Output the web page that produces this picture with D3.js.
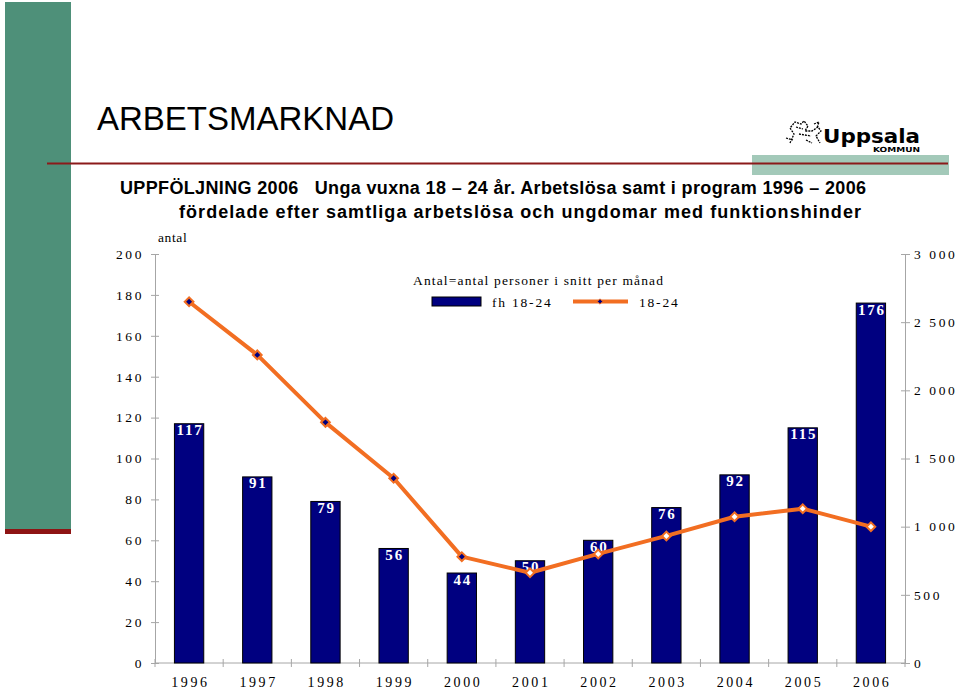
<!DOCTYPE html>
<html>
<head>
<meta charset="utf-8">
<script src="https://cdn.jsdelivr.net/npm/d3@7"></script>
<style>
  body{margin:0;background:#fff;}
  svg{display:block;}
  .serif{font-family:"Liberation Serif","Times New Roman",serif;}
  .axis path,.axis line{stroke:#a6a6a6;}
</style>
</head>
<body>
<div id="chart"></div>
<script>
// data
var years  = ['1996','1997','1998','1999','2000','2001','2002','2003','2004','2005','2006'];
var fh     = [117,91,79,56,44,50,60,76,92,115,176];           // fh 18-24 (left axis)
var total  = [2650,2260,1765,1355,780,662,800,932,1073,1132,1000]; // 18-24 (right axis)
var leftTicks  = [0,20,40,60,80,100,120,140,160,180,200];
var rightTicks = [0,500,1000,1500,2000,2500,3000];
var seriesNames = ['fh 18-24','18-24'];

var W = 960, H = 690;
var navy = '#000080', orange = '#f26e22', grey = '#a6a6a6';
var ox0 = 155, ox1 = 905, oy0 = 663, oy1 = 254;
var serif = '"Liberation Serif","Times New Roman",serif';

var svg = d3.select('#chart').append('svg').attr('width',W).attr('height',H);

// slide decoration
svg.append('rect').attr('x',5).attr('y',2).attr('width',66).attr('height',528).attr('fill','#4e9079');
svg.append('rect').attr('x',5).attr('y',529).attr('width',66).attr('height',5).attr('fill','#8e1414');
svg.append('rect').attr('x',752).attr('y',155).attr('width',197).attr('height',20).attr('fill','#a3c9b9');
svg.append('line').attr('x1',47).attr('x2',948).attr('y1',163.5).attr('y2',163.5)
  .attr('stroke','#8b1a1a').attr('stroke-width',2);

svg.append('text').attr('x',97).attr('y',129.5)
  .style('font-family','"Liberation Sans",Arial,sans-serif').style('font-size','33px')
  .text('ARBETSMARKNAD');

// logo
var logo = svg.append('g').attr('fill','none').attr('stroke','#000').attr('stroke-width',1.3)
  .attr('stroke-dasharray','2,1');
logo.append('path').attr('d','M790,143 L794,134 L790,128 L795,122 L801,124 L804,121 L808,126 L805,131 L812,131 L818,127 L821,131 L816,136 L820,143');
logo.append('path').attr('d','M796,127 L803,129 M799,134 L811,136 M786,138 L793,140 M806,140 L812,143 M814,124 L819,122 L817,128');
svg.append('text').attr('x',823).attr('y',143).attr('textLength',97).attr('lengthAdjust','spacingAndGlyphs')
  .style('font-family','"DejaVu Sans",sans-serif').style('font-weight','bold').style('font-size','20px')
  .text('Uppsala');
svg.append('text').attr('x',873).attr('y',152).attr('textLength',47).attr('lengthAdjust','spacingAndGlyphs')
  .style('font-family','"DejaVu Sans",sans-serif').style('font-weight','bold').style('font-size','7px')
  .text('KOMMUN');

// subtitle
var sub = svg.append('g').style('font-family','"Liberation Sans",Arial,sans-serif')
  .style('font-weight','bold').style('font-size','18px');
sub.append('text').attr('x',120).attr('y',194).attr('textLength',746).attr('lengthAdjust','spacing')
  .style('white-space','pre')
  .text('UPPFÖLJNING 2006   Unga vuxna 18 – 24 år. Arbetslösa samt i program 1996 – 2006');
sub.append('text').attr('x',179).attr('y',218).attr('textLength',682).attr('lengthAdjust','spacing')
  .text('fördelade efter samtliga arbetslösa och ungdomar med funktionshinder');

// scales
var x = d3.scaleBand().domain(years).range([ox0,ox1]).paddingInner(0.57).paddingOuter(0.285);
var yL = d3.scaleLinear().domain([0,200]).range([oy0,oy1]);
var yR = d3.scaleLinear().domain([0,3000]).range([oy0,oy1]);
var fmt = d3.formatLocale({decimal:',',thousands:'\u00a0',grouping:[3],currency:['','']}).format(',d');

// axes
var gl = svg.append('g').attr('class','axis').attr('transform','translate('+ox0+',0)')
  .call(d3.axisLeft(yL).tickValues(leftTicks).tickSize(4).tickSizeOuter(0).tickPadding(7));
gl.selectAll('.tick line').attr('x1',4);
var gr = svg.append('g').attr('class','axis').attr('transform','translate('+ox1+',0)')
  .call(d3.axisRight(yR).tickValues(rightTicks).tickFormat(fmt).tickSize(5).tickSizeOuter(0).tickPadding(4));
gr.selectAll('.tick line').attr('x1',-4);
var gb = svg.append('g').attr('class','axis').attr('transform','translate(0,'+oy0+')')
  .call(d3.axisBottom(x).tickSize(0).tickSizeOuter(0).tickPadding(14));
gb.select('.domain').attr('d','M'+ox0+',0H'+ox1);
var bounds = years.map(function(d){return x(d)-x.step()*x.paddingOuter();}).concat([ox1]);
gb.selectAll('.bound').data(bounds).enter().append('line').attr('class','bound')
  .attr('x1',function(d){return d;}).attr('x2',function(d){return d;})
  .attr('y1',-4).attr('y2',4).attr('stroke',grey);
svg.selectAll('.axis').attr('font-family',serif).attr('font-size',13.5);
svg.selectAll('.axis text').attr('fill','#000').style('letter-spacing','2.6px')
  .style('font-family',serif);
gb.selectAll('.tick text').style('font-size','14px').attr('dx','1.3px');

svg.append('text').attr('x',158).attr('y',241.5).style('font-family',serif)
  .style('font-size','13.5px').style('letter-spacing','0.6px').text('antal');

// bars
var bars = svg.append('g').selectAll('.bar').data(fh).enter().append('g').attr('class','bar');
bars.append('rect')
  .attr('x',function(d,i){return x(years[i]);}).attr('width',x.bandwidth())
  .attr('y',function(d){return yL(d);}).attr('height',function(d){return yL(0)-yL(d);})
  .attr('fill',navy).attr('stroke','#000').attr('stroke-width',1);
bars.append('text')
  .attr('x',function(d,i){return x(years[i])+x.bandwidth()/2+1;})
  .attr('y',function(d){return yL(d)+11.5;})
  .attr('text-anchor','middle').attr('fill','#fff').style('font-family',serif)
  .style('font-size','15px').style('font-weight','bold').style('letter-spacing','1.8px')
  .text(function(d){return d;});

// line
var line = d3.line()
  .x(function(d,i){return x(years[i])+x.bandwidth()/2;})
  .y(function(d){return yR(d);});
svg.append('path').datum(total).attr('d',line).attr('fill','none')
  .attr('stroke',orange).attr('stroke-width',4).attr('stroke-linejoin','round');
var diamond = d3.symbol().type(d3.symbolSquare).size(38);
svg.append('g').selectAll('path').data(total).enter().append('path')
  .attr('d',diamond)
  .attr('transform',function(d,i){return 'translate('+(x(years[i])+x.bandwidth()/2)+','+yR(d)+') rotate(45)';})
  .attr('fill',function(d,i){return i<5?navy:'#fff';})
  .attr('stroke',orange).attr('stroke-width',2);

// legend
var leg = svg.append('g').style('font-family',serif).style('font-size','13.5px');
leg.append('text').attr('x',413).attr('y',285).attr('textLength',250).attr('lengthAdjust','spacing')
  .text('Antal=antal personer i snitt per månad');
leg.append('rect').attr('x',432).attr('y',297).attr('width',49).attr('height',9)
  .attr('fill',navy).attr('stroke','#000');
leg.append('text').attr('x',492).attr('y',306.5).style('letter-spacing','1.8px').text(seriesNames[0]);
leg.append('line').attr('x1',573).attr('x2',628).attr('y1',301.5).attr('y2',301.5)
  .attr('stroke',orange).attr('stroke-width',4);
leg.append('path').attr('d',d3.symbol().type(d3.symbolSquare).size(14))
  .attr('transform','translate(600,301.5) rotate(45)').attr('fill',navy).attr('stroke',orange).attr('stroke-width',0.8);
leg.append('text').attr('x',639).attr('y',306.5).style('letter-spacing','1.8px').text(seriesNames[1]);
</script>
</body>
</html>
